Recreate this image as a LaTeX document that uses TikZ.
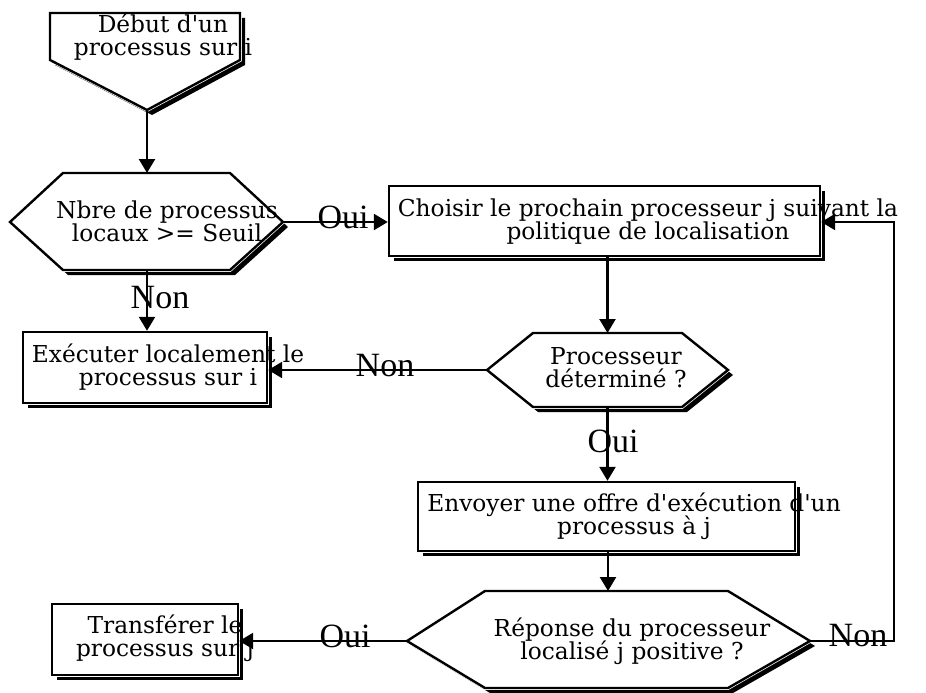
\documentclass[tikz,border=0pt]{standalone}
\usepackage{fontspec}
\setmainfont{DejaVu Serif}[Ligatures=TeXOff]
\newfontfamily\labelfont{Liberation Serif}
\usetikzlibrary{arrows.meta,shadows}

% Font of the texts in the boxes, tight lines
\newcommand\boxfont{\fontsize{23.3}{23}\selectfont\lineskiplimit=-50pt\relax}

\tikzset{
  ombre/.style={drop shadow={shadow xshift=5pt, shadow yshift=-5pt, fill=black, opacity=1}},
  halo/.style={preaction={draw=white, line width=3.8pt}},
  boite/.style={draw, line width=2.4pt, fill=white, ombre, halo, inner sep=0pt},
  hexa/.style={draw, line width=2.4pt, fill=white, ombre, halo, line join=miter},
  texte/.style={font=\boxfont, align=center, inner sep=0pt},
  etiq/.style={font=\labelfont\fontsize{34}{34}\selectfont, inner sep=0pt},
  fleche/.style={line width=2.4pt, -{Triangle[length=14pt, width=16pt]}}
}

\begin{document}
\begin{tikzpicture}[x=1pt, y=-1pt]
    % Fix the frame of the picture (pixel grid, y downwards)
    \useasboundingbox (0,0) rectangle (926,693);

    % Start: pentagon pointing down
    \filldraw[hexa] (50,13) -- (240,13) -- (240,60) -- (147,110) coordinate (debut-s)
        -- (50,60) -- cycle;

    % Decision: number of local processes
    \filldraw[hexa] (63,173) -- (230,173) -- (283,222) coordinate (seuil-e)
        -- (230,270) -- (63,270) -- (10,222) -- cycle;
    \coordinate (seuil-n) at (147,173);
    \coordinate (seuil-s) at (147,270);

    % Decision: processor found
    \filldraw[hexa] (533,333) -- (682,333) -- (728,370) -- (682,407) -- (533,407)
        -- (487,370) coordinate (proc-w) -- cycle;
    \coordinate (proc-n) at (607.5,333);
    \coordinate (proc-s) at (607.5,407);

    % Decision: answer of the processor
    \filldraw[hexa] (485,591) -- (728,591) -- (810,641) coordinate (rep-e) -- (728,688)
        -- (485,688) -- (407,641) coordinate (rep-w) -- cycle;
    \coordinate (rep-n) at (608,591);

    % Boxes
    \node[boite, minimum width=244pt, minimum height=71pt] (executer) at (145,367.5) {};
    \node[boite, minimum width=431pt, minimum height=70pt] (choisir) at (604.5,221) {};
    \node[boite, minimum width=377pt, minimum height=69pt] (envoyer) at (606.5,516.5) {};
    \node[boite, minimum width=186pt, minimum height=71pt] (transferer) at (145,639.5) {};

    % Texts
    \node[texte] (debut-txt) at (163,37) {Début d'un\\processus sur i};
    \node[texte] (seuil-txt) at (167,221) {Nbre de processus\\locaux >= Seuil};
    \node[texte] (executer-txt) at (168,367) {Exécuter localement le\\processus sur i};
    \node[texte] (choisir-txt) at (648,222) {Choisir le prochain processeur j suivant la\\politique de localisation};
    \node[texte] (proc-txt) at (616,368) {Processeur\\déterminé ?};
    \node[texte] (envoyer-txt) at (634,516) {Envoyer une offre d'exécution d'un\\processus à j};
    \node[texte] (rep-txt) at (632,641) {Réponse du processeur\\localisé j positive ?};
    \node[texte] (transferer-txt) at (165,638) {Transférer le\\processus sur j};

    % Connectors
    \coordinate (retour) at (894,222);
    \draw[fleche] (debut-s) -- (seuil-n);
    \draw[fleche] (seuil-s) -- (seuil-s |- executer.north);
    \draw[fleche] (seuil-e) -- (seuil-e -| choisir.west);
    \draw[fleche] (proc-n |- choisir.south) -- (proc-n);
    \draw[fleche] (proc-w) -- (proc-w -| executer.east);
    \draw[fleche] (proc-s) -- (proc-s |- envoyer.north);
    \draw[fleche] (rep-n |- envoyer.south) -- (rep-n);
    \draw[fleche] (rep-w) -- (rep-w -| transferer.east);
    \draw[fleche] (rep-e) -| (retour) -- (retour -| choisir.east);

    % Labels on the connectors
    \node[etiq] (oui-seuil) at (343,217) {Oui};
    \node[etiq] (non-seuil) at (160,298) {Non};
    \node[etiq] (non-proc) at (385,366) {Non};
    \node[etiq] (oui-proc) at (613,441) {Oui};
    \node[etiq] (oui-rep) at (345,636) {Oui};
    \node[etiq] (non-rep) at (858,636) {Non};
\end{tikzpicture}
\end{document}
